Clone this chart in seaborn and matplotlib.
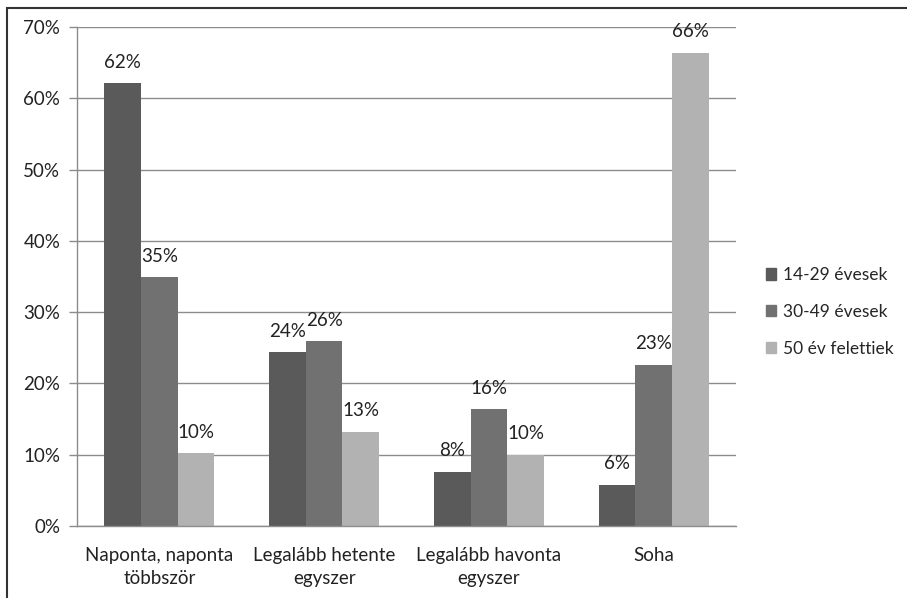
import matplotlib
matplotlib.use("Agg")
import matplotlib.pyplot as plt
from matplotlib.patches import Rectangle
import seaborn as sns
import pandas as pd

# adatok
kategoriak = ["Naponta, naponta\ntöbbször", "Legalább hetente\negyszer",
              "Legalább havonta\negyszer", "Soha"]
csoportok = ["14-29 évesek", "30-49 évesek", "50 év felettiek"]
fiatal = [62.1, 24.4, 7.6, 5.8]
kozep = [34.9, 25.9, 16.4, 22.6]
idos = [10.2, 13.2, 10.0, 66.4]
szinek = ["#5a5a5a", "#717171", "#b2b2b2"]

df = pd.DataFrame({
    "kategoria": kategoriak * 3,
    "csoport": [c for c in csoportok for _ in kategoriak],
    "ertek": fiatal + kozep + idos,
})

sns.set_theme(style="white")
plt.rcParams["font.family"] = ["Lato", "DejaVu Sans"]
fs = 13.5

fig = plt.figure(figsize=(9.07, 5.98), dpi=100)
ax = fig.add_axes([0.0849, 0.1204, 0.8115 - 0.0849, 0.9548 - 0.1204])

sns.barplot(data=df, x="kategoria", y="ertek", hue="csoport", palette=szinek,
            width=0.667, gap=0, saturation=1, linewidth=0, ax=ax, legend=False)

for cont in ax.containers:
    ax.bar_label(cont, labels=[f"{b.get_height():.0f}%" for b in cont],
                 padding=9, fontsize=fs, color="#222222")

ax.set_ylim(0, 70)
ax.set_xlim(-0.5, 3.5)
ax.set_yticks(range(0, 71, 10))
ax.set_yticklabels([f"{v}%" for v in range(0, 71, 10)], fontsize=fs, color="#222222")
ax.yaxis.grid(True, color="#8c8c8c", linewidth=1)
ax.set_axisbelow(True)
ax.set_xlabel("")
ax.set_ylabel("")
for lab in ax.get_xticklabels():
    lab.set_linespacing(1.45)
ax.tick_params(axis="x", which="major", length=0, labelsize=fs, labelcolor="#222222", pad=15)
ax.set_xticks([-0.5, 0.5, 1.5, 2.5, 3.5], minor=True)
ax.tick_params(axis="x", which="minor", length=6, color="#8c8c8c", width=1, direction="out")
ax.tick_params(axis="y", length=6, color="#8c8c8c", width=1, direction="out", left=True, pad=6)

for s in ["top", "right"]:
    ax.spines[s].set_visible(False)
for s in ["left", "bottom"]:
    ax.spines[s].set_color("#8c8c8c")
    ax.spines[s].set_linewidth(1)

handles = [Rectangle((0, 0), 1, 1, color=c) for c in szinek]
ax.legend(handles, csoportok, loc="center left", bbox_to_anchor=(1.035, 0.429),
          frameon=False, fontsize=12.5, handlelength=0.6, handleheight=0.6,
          handletextpad=0.4, labelspacing=1.2, borderaxespad=0)

fig.patches.append(Rectangle((7 / 907, -0.1), 1.2, 1 - 8 / 598 + 0.1,
                             transform=fig.transFigure, fill=False,
                             edgecolor="#333333", linewidth=1.5))

fig.savefig("out.png", dpi=100)
